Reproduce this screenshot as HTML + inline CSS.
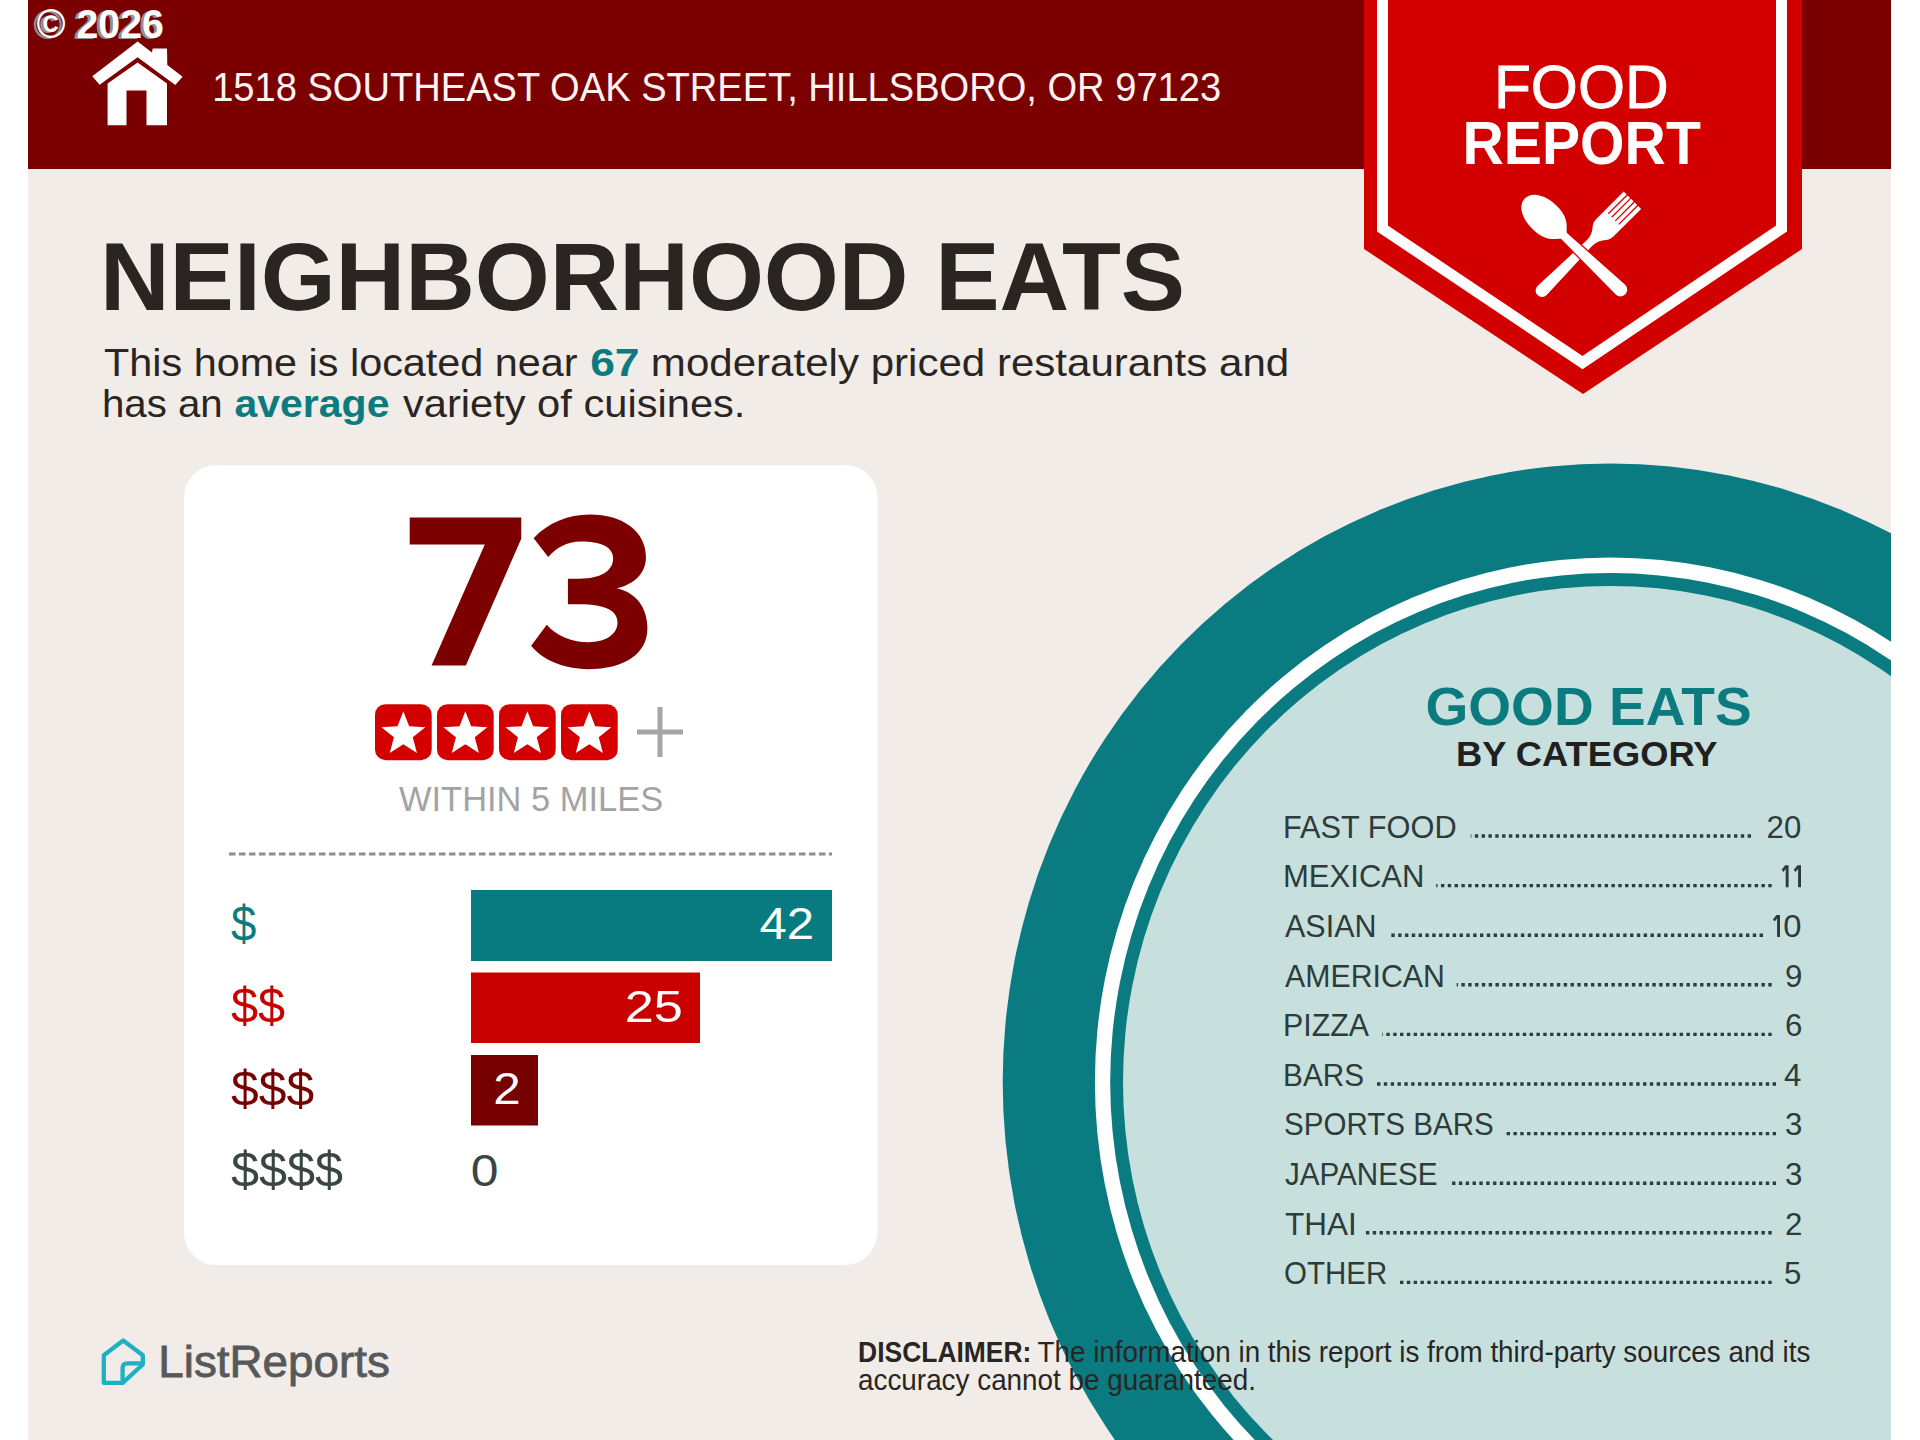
<!DOCTYPE html>
<html><head><meta charset="utf-8"><style>
html,body{margin:0;padding:0;background:#fff;width:1920px;height:1440px;overflow:hidden}
svg{display:block}
text{font-family:"Liberation Sans", sans-serif;white-space:pre}
</style></head><body>
<svg width="1920" height="1440" viewBox="0 0 1920 1440">
<defs><clipPath id="pg"><rect x="28" y="0" width="1863" height="1440"/></clipPath></defs>
<rect x="0" y="0" width="1920" height="1440" fill="#fff"/>
<g clip-path="url(#pg)">
<rect x="28" y="0" width="1863" height="1440" fill="#f1ece8"/>
<rect x="28" y="0" width="1863" height="169" fill="#7b0000"/>
<g transform="translate(1610.5,1082) scale(1,1.0175)">
<circle cx="0" cy="0" r="607.8" fill="#0a7b80"/>
<circle cx="0" cy="0" r="515.6" fill="#fff"/>
<circle cx="0" cy="0" r="500.3" fill="#0a7b80"/>
<circle cx="0" cy="0" r="487.5" fill="#c7e0de"/>
</g>
<!-- badge -->
<polygon points="1364,-5 1802,-5 1802,249 1583,394 1364,249" fill="#d30000"/>
<polygon points="1382.5,-20 1781.5,-20 1781.5,228.5 1582.5,362.5 1382.5,228.5" fill="none" stroke="#fff" stroke-width="11" stroke-miterlimit="10"/>
<!-- card -->
<rect x="184" y="465" width="693.5" height="800" rx="32" ry="33" fill="#fff"/>
<!-- stars -->
<g fill="#d40000">
<rect x="375" y="704.2" width="56.7" height="56" rx="10.5"/>
<rect x="437" y="704.2" width="56.7" height="56" rx="10.5"/>
<rect x="499" y="704.2" width="56.7" height="56" rx="10.5"/>
<rect x="561" y="704.2" width="56.7" height="56" rx="10.5"/>
</g>
<polygon points="403.35,711.20 409.17,726.29 425.32,727.16 412.77,737.36 416.93,752.99 403.35,744.20 389.77,752.99 393.93,737.36 381.38,727.16 397.53,726.29" fill="#fff"/>
<polygon points="465.35,711.20 471.17,726.29 487.32,727.16 474.77,737.36 478.93,752.99 465.35,744.20 451.77,752.99 455.93,737.36 443.38,727.16 459.53,726.29" fill="#fff"/>
<polygon points="527.35,711.20 533.17,726.29 549.32,727.16 536.77,737.36 540.93,752.99 527.35,744.20 513.77,752.99 517.93,737.36 505.38,727.16 521.53,726.29" fill="#fff"/>
<polygon points="589.35,711.20 595.17,726.29 611.32,727.16 598.77,737.36 602.93,752.99 589.35,744.20 575.77,752.99 579.93,737.36 567.38,727.16 583.53,726.29" fill="#fff"/>
<g fill="#fff">
<polygon points="137.6,41.6 152,52.5 152.7,48.5 167,48.5 167.3,64.9 182.6,76.7 175.3,85 137.6,57.2 99.6,84.7 92.3,76.3"/>
<polygon points="137.6,62.4 167,83.6 167,125.3 146.5,125.3 146.5,90.6 126.5,90.6 126.5,125.3 107.6,125.3 107.6,83.6"/>
</g>
<g transform="translate(1542.1,290.5) rotate(-45)">
<path d="M0,-6.5 L66,-3.9 C73,-3.9 77,-6 81,-9.5 C84,-12 86,-12.3 90,-12.3 L127.7,-12.3 L127.7,-8.1 L101,-8.1 L101,-6.8 L127.7,-6.8 L127.7,-3.2 L101,-3.2 L101,-1.9 L127.7,-1.9 L127.7,1.9 L101,1.9 L101,3.2 L127.7,3.2 L127.7,6.8 L101,6.8 L101,8.1 L127.7,8.1 L127.7,12.3 L90,12.3 C86,12.3 84,12 81,9.5 C77,6 73,3.9 66,3.9 L0,6.5 A6.5,6.5 0 0 1 0,-6.5 Z" fill="#fff"/>
</g><g transform="translate(1564.1,236) rotate(43.6)">
<path d="M0,-4.1 C-4,-6.2 -7,-16.8 -27,-16.8 C-44,-16.8 -54.4,-9 -54.4,0 C-54.4,9 -44,16.8 -27,16.8 C-7,16.8 -4,6.2 0,4.1 L77.8,6.8 A6.8,6.8 0 0 0 77.8,-6.8 Z" fill="#fff" stroke="#d30000" stroke-width="2.6" paint-order="stroke"/>
</g>
<g fill="none" stroke="#1db1c2" stroke-width="4.3" stroke-linejoin="round" stroke-linecap="round">
<path d="M123.2,1340.5 L103.8,1355.2 L103.8,1382.9 L122.6,1382.9 L142.8,1364.5 L142.8,1355.2 Z"/>
<path d="M122.6,1382.9 L122.6,1368 Q122.6,1363.3 127.3,1363.3 L142.8,1363.3"/>
</g>
<g transform="translate(390,500) scale(0.14584)" fill="#7d0000">
<path d="M135,120 L900,120 L900,265 L520,1135 L285,1135 L650,305 L135,305 Z"/>
<path d="M985,262 C1080,160 1220,100 1370,100 C1600,100 1755,220 1755,390 C1755,500 1680,575 1555,605 C1690,635 1765,740 1765,880 C1765,1060 1600,1160 1360,1160 C1180,1160 1040,1090 968,1000 L1075,855 C1140,930 1240,975 1360,975 C1480,975 1560,920 1560,840 C1560,760 1480,715 1300,715 L1220,715 L1220,540 L1300,540 C1440,540 1530,490 1530,400 C1530,320 1440,285 1310,285 C1210,285 1140,330 1085,390 Z"/>
</g>
<!-- plus -->
<g stroke="#a6a6a6" stroke-width="5"><line x1="637" y1="732" x2="683" y2="732"/><line x1="660" y1="707" x2="660" y2="757"/></g>
<line x1="229" y1="854" x2="832" y2="854" stroke="#8e8e8e" stroke-width="3" stroke-dasharray="6.5 3.5"/>
<!-- bars -->
<rect x="471" y="890" width="361" height="71" fill="#077b80"/>
<rect x="471" y="972.5" width="229" height="70.5" fill="#c80000"/>
<rect x="471" y="1055" width="67" height="70.5" fill="#770000"/>
<polygon points="1788.60,865.30 1788.60,887.30 1785.70,887.30 1785.70,868.90 1783.30,871.90 1781.70,869.70 1785.10,865.30" fill="#2e3b3b"/>
<polygon points="1801.00,865.30 1801.00,887.30 1798.10,887.30 1798.10,868.90 1795.40,871.90 1793.80,869.70 1797.50,865.30" fill="#2e3b3b"/>
<polygon points="1780.00,914.90 1780.00,936.90 1777.10,936.90 1777.10,918.50 1774.60,921.50 1773.00,919.30 1776.50,914.90" fill="#2e3b3b"/>
<line x1="1751.0" y1="836.0" x2="1470.7" y2="836.0" stroke="#2e3b3b" stroke-width="3.4" stroke-dasharray="3.4 3.42"/>
<line x1="1771.7" y1="885.6" x2="1436.2" y2="885.6" stroke="#2e3b3b" stroke-width="3.4" stroke-dasharray="3.4 3.42"/>
<line x1="1763.0" y1="935.2" x2="1389.6" y2="935.2" stroke="#2e3b3b" stroke-width="3.4" stroke-dasharray="3.4 3.42"/>
<line x1="1771.7" y1="984.8" x2="1456.7" y2="984.8" stroke="#2e3b3b" stroke-width="3.4" stroke-dasharray="3.4 3.42"/>
<line x1="1771.7" y1="1034.4" x2="1382.3" y2="1034.4" stroke="#2e3b3b" stroke-width="3.4" stroke-dasharray="3.4 3.42"/>
<line x1="1776.0" y1="1084.0" x2="1375.6" y2="1084.0" stroke="#2e3b3b" stroke-width="3.4" stroke-dasharray="3.4 3.42"/>
<line x1="1776.0" y1="1133.6" x2="1504.8" y2="1133.6" stroke="#2e3b3b" stroke-width="3.4" stroke-dasharray="3.4 3.42"/>
<line x1="1776.0" y1="1183.2" x2="1449.4" y2="1183.2" stroke="#2e3b3b" stroke-width="3.4" stroke-dasharray="3.4 3.42"/>
<line x1="1771.7" y1="1232.8" x2="1364.8" y2="1232.8" stroke="#2e3b3b" stroke-width="3.4" stroke-dasharray="3.4 3.42"/>
<line x1="1771.7" y1="1282.4" x2="1398.3" y2="1282.4" stroke="#2e3b3b" stroke-width="3.4" stroke-dasharray="3.4 3.42"/>
<text transform="translate(33.20,38.60) scale(0.9509,1)" font-size="41.50" font-weight="bold" fill="#8f8f8f" >© 2026</text>
<text transform="translate(36.50,38.30) scale(0.9486,1)" font-size="41.50" font-weight="bold" fill="#fff" >© 2026</text>
<text transform="translate(212.15,100.50) scale(0.9496,1)" font-size="40.12" font-weight="normal" fill="#fff4f2" >1518 SOUTHEAST OAK STREET, HILLSBORO, OR 97123</text>
<text transform="translate(1493.88,108.20) scale(0.9843,1)" font-size="61.48" font-weight="normal" fill="#fff" stroke="#fff" stroke-width="0.9">FOOD</text>
<text transform="translate(1462.48,164.00) scale(0.9305,1)" font-size="61.48" font-weight="bold" fill="#fff" >REPORT</text>
<text transform="translate(100.02,310.40) scale(0.9971,1)" font-size="96.66" font-weight="bold" fill="#2a2523" >NEIGHBORHOOD EATS</text>
<text transform="translate(104.00,375.60) scale(1.0544,1)" font-size="39.24" font-weight="normal" fill="#2a2523" >This home is located near</text>
<text transform="translate(590.17,375.60) scale(1.1310,1)" font-size="39.24" font-weight="bold" fill="#0b7b80" >67</text>
<text transform="translate(650.86,375.60) scale(1.0723,1)" font-size="39.24" font-weight="normal" fill="#2a2523" >moderately priced restaurants and</text>
<text transform="translate(101.95,417.20) scale(1.0256,1)" font-size="39.24" font-weight="normal" fill="#2a2523" >has an</text>
<text transform="translate(234.46,417.20) scale(1.0449,1)" font-size="39.24" font-weight="bold" fill="#0b7b80" >average</text>
<text transform="translate(402.90,417.20) scale(1.0615,1)" font-size="39.24" font-weight="normal" fill="#2a2523" >variety of cuisines.</text>
<text transform="translate(399.00,810.70) scale(0.9882,1)" font-size="34.88" font-weight="normal" fill="#a3a3a3" >WITHIN 5 MILES</text>
<text transform="translate(231.00,940.50) scale(0.9111,1)" font-size="50.00" font-weight="normal" fill="#0b7b80" >$</text>
<text transform="translate(231.00,1023.20) scale(0.9743,1)" font-size="50.00" font-weight="normal" fill="#c80000" >$$</text>
<text transform="translate(231.00,1105.80) scale(0.9962,1)" font-size="50.00" font-weight="normal" fill="#760000" >$$$</text>
<text transform="translate(231.00,1187.30) scale(1.0070,1)" font-size="50.00" font-weight="normal" fill="#3a4646" >$$$$</text>
<text transform="translate(759.40,939.40) scale(1.1002,1)" font-size="44.62" font-weight="normal" fill="#fff" >42</text>
<text transform="translate(624.66,1021.80) scale(1.1722,1)" font-size="44.62" font-weight="normal" fill="#fff" >25</text>
<text transform="translate(493.29,1104.30) scale(1.1048,1)" font-size="44.62" font-weight="normal" fill="#fff" >2</text>
<text transform="translate(470.68,1185.60) scale(1.1174,1)" font-size="44.62" font-weight="normal" fill="#3a4646" >0</text>
<text transform="translate(1425.45,724.80) scale(1.0239,1)" font-size="53.78" font-weight="bold" fill="#0b7b80" >GOOD EATS</text>
<text transform="translate(1455.93,765.70) scale(1.0327,1)" font-size="35.17" font-weight="bold" fill="#231f1f" >BY CATEGORY</text>
<text transform="translate(1283.03,837.70) scale(0.9838,1)" font-size="31.25" font-weight="normal" fill="#2e3b3b" >FAST FOOD</text>
<text transform="translate(1766.62,837.70) scale(1.0000,1)" font-size="31.25" font-weight="normal" fill="#2e3b3b" >20</text>
<text transform="translate(1283.01,887.30) scale(0.9942,1)" font-size="31.25" font-weight="normal" fill="#2e3b3b" >MEXICAN</text>
<text transform="translate(1285.00,936.90) scale(0.9760,1)" font-size="31.25" font-weight="normal" fill="#2e3b3b" >ASIAN</text>
<text transform="translate(1783.35,936.90) scale(1.0500,1)" font-size="31.25" font-weight="normal" fill="#2e3b3b" >0</text>
<text transform="translate(1285.00,986.50) scale(0.9701,1)" font-size="31.25" font-weight="normal" fill="#2e3b3b" >AMERICAN</text>
<text transform="translate(1785.00,986.50) scale(1.0000,1)" font-size="31.25" font-weight="normal" fill="#2e3b3b" >9</text>
<text transform="translate(1283.06,1036.10) scale(0.9711,1)" font-size="31.25" font-weight="normal" fill="#2e3b3b" >PIZZA</text>
<text transform="translate(1785.00,1036.10) scale(1.0000,1)" font-size="31.25" font-weight="normal" fill="#2e3b3b" >6</text>
<text transform="translate(1283.10,1085.70) scale(0.9519,1)" font-size="31.25" font-weight="normal" fill="#2e3b3b" >BARS</text>
<text transform="translate(1784.00,1085.70) scale(1.0000,1)" font-size="31.25" font-weight="normal" fill="#2e3b3b" >4</text>
<text transform="translate(1284.05,1135.30) scale(0.9460,1)" font-size="31.25" font-weight="normal" fill="#2e3b3b" >SPORTS BARS</text>
<text transform="translate(1785.00,1135.30) scale(1.0000,1)" font-size="31.25" font-weight="normal" fill="#2e3b3b" >3</text>
<text transform="translate(1285.00,1184.90) scale(0.9482,1)" font-size="31.25" font-weight="normal" fill="#2e3b3b" >JAPANESE</text>
<text transform="translate(1785.00,1184.90) scale(1.0000,1)" font-size="31.25" font-weight="normal" fill="#2e3b3b" >3</text>
<text transform="translate(1285.00,1234.50) scale(1.0073,1)" font-size="31.25" font-weight="normal" fill="#2e3b3b" >THAI</text>
<text transform="translate(1785.00,1234.50) scale(1.0000,1)" font-size="31.25" font-weight="normal" fill="#2e3b3b" >2</text>
<text transform="translate(1284.06,1284.10) scale(0.9434,1)" font-size="31.25" font-weight="normal" fill="#2e3b3b" >OTHER</text>
<text transform="translate(1784.00,1284.10) scale(1.0000,1)" font-size="31.25" font-weight="normal" fill="#2e3b3b" >5</text>
<text transform="translate(858.08,1361.70) scale(0.9190,1)" font-size="28.78" font-weight="bold" fill="#2a2523" >DISCLAIMER:</text>
<text transform="translate(1037.50,1361.70) scale(0.9666,1)" font-size="28.78" font-weight="normal" fill="#2a2523" >The information in this report is from third-party sources and its</text>
<text transform="translate(858.03,1390.20) scale(0.9681,1)" font-size="28.78" font-weight="normal" fill="#2a2523" >accuracy cannot be guaranteed.</text>
<text transform="translate(158.29,1376.70) scale(1.0359,1)" font-size="44.19" font-weight="normal" fill="#57585a" stroke="#57585a" stroke-width="0.8">ListReports</text>
</g>
</svg>
</body></html>
